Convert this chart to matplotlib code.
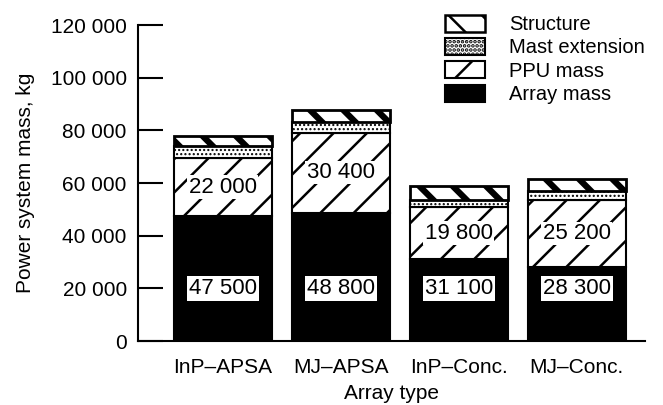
import matplotlib
matplotlib.use('Agg')
import matplotlib.pyplot as plt
import matplotlib.ticker as mticker
from matplotlib.patches import Patch
import numpy as np

plt.rcParams['font.family'] = ['Liberation Sans', 'DejaVu Sans']
plt.rcParams['hatch.linewidth'] = 1.8

# data (kg)
array_types = ['InP\u2013APSA', 'MJ\u2013APSA', 'InP\u2013Conc.', 'MJ\u2013Conc.']
array_mass = [47500, 48800, 31100, 28300]
ppu_mass = [22000, 30400, 19800, 25200]
mast_ext = [4500, 4000, 2500, 3300]
structure = [4000, 4500, 5500, 4800]
yticks = [0, 20000, 40000, 60000, 80000, 100000, 120000]


def thick_hatch(patches, lw):
    for p in patches:
        if hasattr(p, 'set_hatch_linewidth'):
            p.set_hatch_linewidth(lw)


fig = plt.figure(figsize=(6.63, 4.05), dpi=100)
ax = fig.add_axes([0.208, 0.158, 0.765, 0.78])

x = np.arange(len(array_types))
w = 0.83
b1 = np.array(array_mass)
b2 = b1 + np.array(ppu_mass)
b3 = b2 + np.array(mast_ext)

ax.bar(x, array_mass, w, color='black', edgecolor='black', linewidth=1.5)
ax.bar(x, ppu_mass, w, bottom=b1, color='white', edgecolor='black', hatch='/', linewidth=1.5)
ms = ax.bar(x, mast_ext, w, bottom=b2, color='white', edgecolor='black', hatch='....', linewidth=1.5)
thick_hatch(ms, 1.0)
st = ax.bar(x, structure, w, bottom=b3, color='white', edgecolor='black', hatch='\\', linewidth=2)
thick_hatch(st, 4.5)

for i in range(len(x)):
    ax.text(x[i], 20000, '{:,}'.format(array_mass[i]).replace(',', ' '), ha='center', va='center',
            fontsize=16, bbox=dict(facecolor='white', edgecolor='none', pad=1.5))
    ax.text(x[i], b1[i] + ppu_mass[i] / 2, '{:,}'.format(ppu_mass[i]).replace(',', ' '), ha='center',
            va='center', fontsize=16, bbox=dict(facecolor='white', edgecolor='none', pad=1.0))

ax.set_xlim(-0.72, 3.58)
ax.set_ylim(0, 120000)
ax.set_yticks(yticks)
ax.yaxis.set_major_formatter(mticker.FuncFormatter(lambda v, p: '{:,}'.format(int(v)).replace(',', ' ')))
ax.set_xticks(x)
ax.set_xticklabels(array_types)
ax.tick_params(axis='y', direction='in', length=18, width=1.5, labelsize=15, pad=8)
ax.tick_params(axis='x', length=0, labelsize=15, pad=12)
for s in ['top', 'right']:
    ax.spines[s].set_visible(False)
ax.spines['left'].set_linewidth(1.5)
ax.spines['bottom'].set_linewidth(1.5)
ax.set_ylabel('Power system mass, kg', fontsize=15, labelpad=11)
ax.set_xlabel('Array type', fontsize=15, labelpad=5)

handles = [
    Patch(facecolor='white', edgecolor='black', hatch='\\', linewidth=1.8),
    Patch(facecolor='white', edgecolor='black', hatch='....', linewidth=1.5),
    Patch(facecolor='white', edgecolor='black', hatch='/', linewidth=1.5),
    Patch(facecolor='black', edgecolor='black', linewidth=1.5),
]
thick_hatch(handles[:1], 4.5)
thick_hatch(handles[1:2], 1.0)
ax.legend(handles, ['Structure', 'Mast extension', 'PPU mass', 'Array mass'], loc='upper right',
          bbox_to_anchor=(1.035, 1.09), frameon=False, fontsize=14.5, handlelength=2.0, handleheight=0.9,
          labelspacing=0.2, handletextpad=1.2)

fig.savefig('out.png', dpi=100)
